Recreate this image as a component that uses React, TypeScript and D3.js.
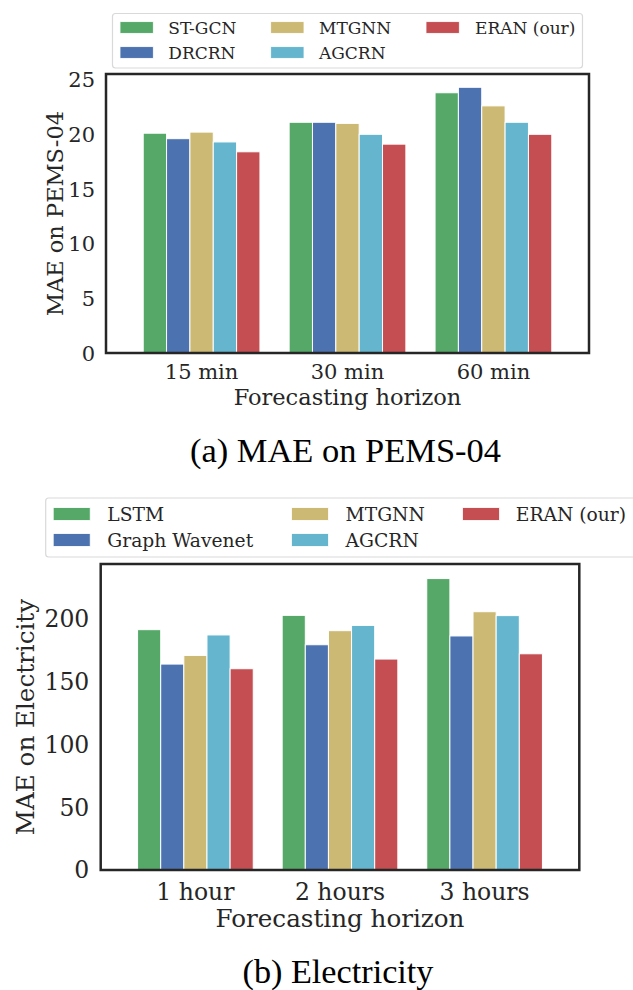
import * as d3 from "d3";

// ---- (a) PEMS-04 ----
const pemsHorizons = ["15 min", "30 min", "60 min"];
const pemsModels = ["ST-GCN", "DRCRN", "MTGNN", "AGCRN", "ERAN (our)"];
const pemsStgcn = [20.1, 21.1, 23.8];
const pemsDrcrn = [19.6, 21.1, 24.3];
const pemsMtgnn = [20.2, 21.0, 22.6];
const pemsAgcrn = [19.3, 20.0, 21.1];
const pemsEran = [18.4, 19.1, 20.0];
const pemsTicks = [0, 5, 10, 15, 20, 25];

// ---- (b) Electricity ----
const elecHorizons = ["1 hour", "2 hours", "3 hours"];
const elecModels = ["LSTM", "Graph Wavenet", "MTGNN", "AGCRN", "ERAN (our)"];
const elecLstm = [191.4, 202.8, 232.1];
const elecGwn = [164.0, 179.4, 186.4];
const elecMtgnn = [170.9, 190.6, 205.7];
const elecAgcrn = [187.2, 194.8, 202.6];
const elecEran = [160.3, 168.0, 172.2];
const elecTicks = [0, 50, 100, 150, 200];

const palette = ["#55A868", "#4C72B0", "#CCB974", "#64B5CD", "#C44E52"];
const ink = "#262626";
const serif = "'DejaVu Serif', serif";

interface PanelProps {
  categories: string[];
  models: string[];
  series: number[][];
  ticks: number[];
  yLabel: string;
  caption: string;
  captionWidth: number;
  frame: { left: number; right: number; top: number; bottom: number };
  fontSize: number;
  labelSize: number;
  tickRight: number;
  yLabelX: number;
  xTickY: number;
  xLabelY: number;
  captionY: number;
  legend: {
    x0: number;
    x1: number;
    y0: number;
    y1: number;
    patchX: number[];
    textX: number[];
    rowY: number[];
    patchW: number;
    patchH: number;
    fontSize: number;
  };
}

function Panel(p: PanelProps) {
  const { frame, legend } = p;
  const yMax = d3.max(p.series.flat())! * 1.05;
  const span = 0.8;
  const x = d3
    .scaleLinear()
    .domain([-0.655, p.categories.length - 1 + 0.655])
    .range([frame.left, frame.right]);
  const y = d3.scaleLinear().domain([0, yMax]).range([frame.bottom, frame.top]);
  const n = p.series.length;
  const bw = span / n;
  const cx = (frame.left + frame.right) / 2;
  const cy = (frame.top + frame.bottom) / 2;

  return (
    <g>
      {/* legend */}
      <rect
        x={legend.x0}
        y={legend.y0}
        width={legend.x1 - legend.x0}
        height={legend.y1 - legend.y0}
        rx={3}
        fill="#fff"
        stroke="#d9d9d9"
        strokeWidth={1.2}
      />
      {p.models.map((m, i) => {
        const col = Math.floor(i / 2);
        const row = i % 2;
        return (
          <g key={m}>
            <rect
              x={legend.patchX[col]}
              y={legend.rowY[row] - legend.patchH / 2}
              width={legend.patchW}
              height={legend.patchH}
              fill={palette[i]}
              stroke="#fff"
              strokeWidth={0.8}
            />
            <text
              x={legend.textX[col]}
              y={legend.rowY[row]}
              dy="0.36em"
              fontFamily={serif}
              fontSize={legend.fontSize}
              fill={ink}
            >
              {m}
            </text>
          </g>
        );
      })}

      {/* bars */}
      {p.series.map((vals, s) =>
        vals.map((v, c) => {
          const x0 = x(c - span / 2 + s * bw);
          const x1 = x(c - span / 2 + (s + 1) * bw);
          return (
            <rect
              key={`${s}-${c}`}
              x={x0}
              y={y(v)}
              width={x1 - x0}
              height={y(0) - y(v)}
              fill={palette[s]}
              stroke="#fff"
              strokeWidth={1}
            />
          );
        }),
      )}

      {/* frame */}
      <rect
        x={frame.left}
        y={frame.top}
        width={frame.right - frame.left}
        height={frame.bottom - frame.top}
        fill="none"
        stroke={ink}
        strokeWidth={2.5}
      />

      {/* y ticks */}
      {p.ticks.map((t) => (
        <text
          key={t}
          x={p.tickRight}
          y={y(t)}
          dy="0.36em"
          textAnchor="end"
          fontFamily={serif}
          fontSize={p.fontSize}
          fill={ink}
        >
          {t}
        </text>
      ))}
      <text
        transform={`translate(${p.yLabelX},${cy}) rotate(-90)`}
        dy="0.36em"
        textAnchor="middle"
        fontFamily={serif}
        fontSize={p.labelSize}
        fill={ink}
      >
        {p.yLabel}
      </text>

      {/* x ticks */}
      {p.categories.map((c, i) => (
        <text
          key={c}
          x={x(i)}
          y={p.xTickY}
          textAnchor="middle"
          fontFamily={serif}
          fontSize={p.fontSize}
          fill={ink}
        >
          {c}
        </text>
      ))}
      <text
        x={cx}
        y={p.xLabelY}
        textAnchor="middle"
        fontFamily={serif}
        fontSize={p.labelSize}
        fill={ink}
      >
        Forecasting horizon
      </text>

      <text
        x={cx - 2}
        y={p.captionY}
        textAnchor="middle"
        fontFamily="'Liberation Serif', serif"
        fontSize={33}
        textLength={p.captionWidth}
        lengthAdjust="spacingAndGlyphs"
        fill="#000"
      >
        {p.caption}
      </text>
    </g>
  );
}

export default function App() {
  return (
    <svg
      width={633}
      height={990}
      style={{ position: "absolute", left: 0, top: 0, background: "#fff" }}
    >
      <rect width={633} height={990} fill="#fff" />
      <Panel
        categories={pemsHorizons}
        models={pemsModels}
        series={[pemsStgcn, pemsDrcrn, pemsMtgnn, pemsAgcrn, pemsEran]}
        ticks={pemsTicks}
        yLabel="MAE on PEMS-04"
        caption="(a) MAE on PEMS-04"
        captionWidth={311}
        frame={{ left: 106, right: 589, top: 74, bottom: 353 }}
        fontSize={21}
        labelSize={22.5}
        tickRight={95}
        yLabelX={55}
        xTickY={379}
        xLabelY={405}
        captionY={462}
        legend={{
          x0: 112.5,
          x1: 582.5,
          y0: 13.5,
          y1: 68,
          patchX: [120, 270.7, 426],
          textX: [168.3, 319, 475],
          rowY: [27.5, 52.5],
          patchW: 33.3,
          patchH: 11.7,
          fontSize: 17,
        }}
      />
      <Panel
        categories={elecHorizons}
        models={elecModels}
        series={[elecLstm, elecGwn, elecMtgnn, elecAgcrn, elecEran]}
        ticks={elecTicks}
        yLabel="MAE on Electricity"
        caption="(b) Electricity"
        captionWidth={191}
        frame={{ left: 100.7, right: 579.3, top: 564, bottom: 870 }}
        fontSize={23.5}
        labelSize={24.6}
        tickRight={89.3}
        yLabelX={25}
        xTickY={900}
        xLabelY={927}
        captionY={983}
        legend={{
          x0: 45.7,
          x1: 645,
          y0: 498,
          y1: 557,
          patchX: [53.2, 291.5, 462.5],
          textX: [107.3, 345.6, 515.8],
          rowY: [514, 540],
          patchW: 37,
          patchH: 12.8,
          fontSize: 18.7,
        }}
      />
    </svg>
  );
}
